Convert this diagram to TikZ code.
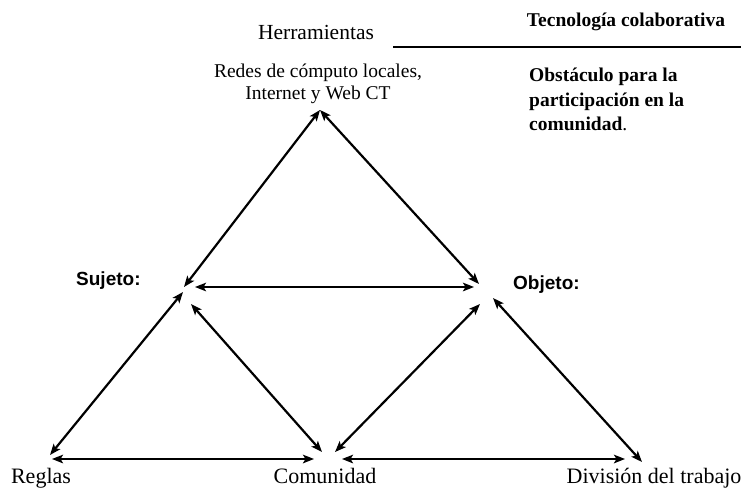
\documentclass[tikz,border=0pt]{standalone}
\usepackage{fontspec}
\setmainfont{Liberation Serif}
\setsansfont{Liberation Sans}
\usetikzlibrary{arrows.meta}
\begin{document}
\begin{tikzpicture}[x=1pt,y=-1pt,
  tip/.tip={Stealth[length=11pt,width=8.5pt,inset=2.5pt]},
  link/.style={line width=2.2pt,tip-tip},
  lbl/.style={inner sep=0pt,anchor=base,font=\fontsize{21.5}{24}\selectfont},
  role/.style={inner sep=0pt,anchor=base west,font=\sffamily\bfseries\fontsize{19}{22}\selectfont},
  note/.style={inner sep=0pt,font=\bfseries\fontsize{19.5}{24.5}\selectfont}]
\useasboundingbox (0,0) rectangle (743,489);

% headings
\node[lbl] (herr) at (316,40) {Herramientas};
\node[note,anchor=base] (tec) at (626,27) {Tecnología colaborativa};
\coordinate (ruleL) at (393,47);
\coordinate (ruleR) at (741,47);
\draw[line width=2.4pt] (ruleL) -- (ruleR);

% the last line of a wrapped node sits on its base anchor
\node[inner sep=0pt,anchor=base,align=center,font=\fontsize{19.5}{22}\selectfont] (redes) at (318,100)
  {Redes de cómputo locales,\\Internet y Web CT};
\node[note,anchor=base west,align=left] (obst) at (529,131)
  {Obstáculo para la\\participación en la\\comunidad{\mdseries.}};

% roles
\node[role] (suj) at (76,285) {Sujeto:};
\node[role] (obj) at (513,289) {Objeto:};

% corners of the lower row
\node[lbl,font=\fontsize{22}{24}\selectfont] (reg) at (41,483) {Reglas};
\node[lbl,font=\fontsize{22}{24}\selectfont] (com) at (325,483) {Comunidad};
\node[lbl,font=\fontsize{22}{24}\selectfont] (div) at (654,483) {División del trabajo};

% connector end points
\coordinate (apex) at (320,110);
\coordinate (sA) at (184,287);
\coordinate (oA) at (479,284);
\coordinate (sH) at (195,287);
\coordinate (oH) at (474,287);
\coordinate (sR) at (183,292);
\coordinate (rS) at (50,455);
\coordinate (rC) at (52,459);
\coordinate (cR) at (314,459);
\coordinate (sC) at (191,304);
\coordinate (cS) at (322,452);
\coordinate (cO) at (335,452);
\coordinate (oC) at (480,304);
\coordinate (cD) at (342,459);
\coordinate (dC) at (625,459);
\coordinate (oD) at (493,298);
\coordinate (dO) at (642,462);

\draw[link] (apex) -- (sA);
\draw[link] (apex) -- (oA);
\draw[link] (sH) -- (oH);
\draw[link] (sR) -- (rS);
\draw[link] (rC) -- (cR);
\draw[link] (sC) -- (cS);
\draw[link] (cO) -- (oC);
\draw[link] (cD) -- (dC);
\draw[link] (oD) -- (dO);
\end{tikzpicture}
\end{document}
